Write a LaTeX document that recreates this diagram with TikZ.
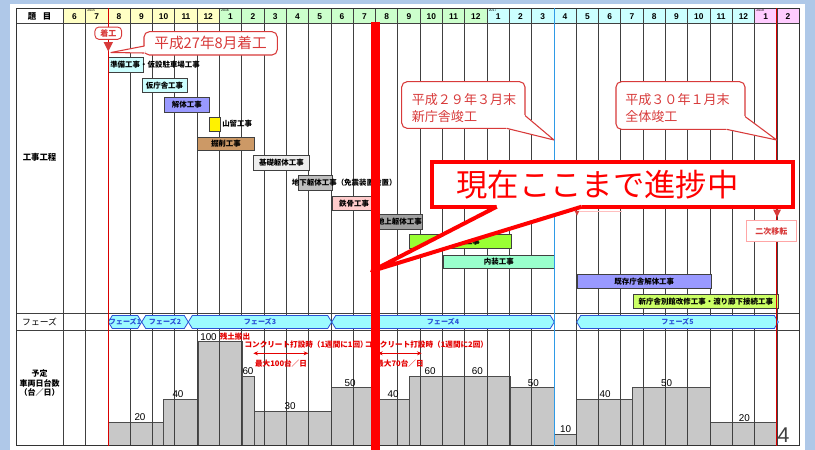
\documentclass[tikz,border=0pt]{standalone}
\usepackage{fontspec}
\setmainfont{Noto Sans CJK JP}
\newfontfamily\ar{Liberation Sans}
\usetikzlibrary{arrows.meta}
\definecolor{bgblue}{HTML}{AFC8E8}
\definecolor{hy}{HTML}{FFFFC4}
\definecolor{hg}{HTML}{CCFFCC}
\definecolor{hc}{HTML}{CCFFFF}
\definecolor{hp}{HTML}{FFCCFF}
\definecolor{cored}{HTML}{D83A3A}
\definecolor{phcyan}{HTML}{9CFBFF}
\definecolor{phblue}{HTML}{2A52D6}
\definecolor{vgray}{HTML}{C8C8C8}
\definecolor{lblue}{HTML}{2E9AE6}
\definecolor{kai}{HTML}{9999FF}
\definecolor{kus}{HTML}{CC9966}
\definecolor{kis}{HTML}{EDEDED}
\definecolor{chk}{HTML}{BFBFBF}
\definecolor{tek}{HTML}{FFCCCC}
\definecolor{cjo}{HTML}{A0A0A0}
\definecolor{gai}{HTML}{99FF33}
\definecolor{nai}{HTML}{99FFCC}
\definecolor{bek}{HTML}{CCFF66}
\tikzset{
  gridline/.style={draw=black!75, line width=0.5pt},
  gb/.style={draw=black!75, line width=0.45pt, inner sep=0, anchor=north west, font=\fontsize{5.6}{6}\selectfont\bfseries},
  gtxt/.style={inner sep=0, font=\fontsize{5.6}{6}\selectfont\bfseries},
  vbar/.style={fill=vgray, draw=black!70, line width=0.5pt},
  vnum/.style={font=\ar\fontsize{7.4}{8}\selectfont, inner sep=0},
  redtxt/.style={text=red!90!black, font=\fontsize{5.7}{6}\selectfont\bfseries, inner sep=0},
  phase/.style={fill=phcyan, draw=phblue, line width=0.6pt},
  phtxt/.style={text=phblue, font=\fontsize{5.3}{6}\selectfont\bfseries, inner sep=0},
  co/.style={draw=cored, fill=white, line width=0.8pt, rounded corners=4pt},
  cotxt/.style={text=cored, font=\fontsize{9.8}{12.5}\selectfont, align=left, inner sep=0, anchor=west},
  hdr/.style={font=\ar\bfseries\fontsize{6.3}{7}\selectfont, inner sep=0},
  yr/.style={font=\ar\fontsize{2.6}{3}\selectfont, inner sep=0, anchor=north west},
  lbl/.style={font=\fontsize{6.3}{6}\selectfont\bfseries, inner sep=0, align=center},
}
\newcommand\gbox[7]{\node[gb, fill=#6, minimum width={(#4-#2)*0.75pt}, minimum height={(#5-#3)*0.75pt}] (#1) at (#2,#3) {#7};}
\begin{document}
\begin{tikzpicture}[x=0.75pt,y=-0.75pt]
\useasboundingbox (0,0) rectangle (815,450);
\fill[bgblue] (0,0) rectangle (815,450);
\fill[white] (10,4) rectangle (805,450);
% header
\fill[white] (16,8.3) rectangle (63.3,23.3);
\foreach \m/\c [count=\k from 0] in {6/hy,7/hy,8/hy,9/hy,10/hy,11/hy,12/hy,1/hg,2/hg,3/hg,4/hg,5/hg,6/hg,7/hg,8/hg,9/hg,10/hg,11/hg,12/hg,1/hc,2/hc,3/hc,4/hc,5/hc,6/hc,7/hc,8/hc,9/hc,10/hc,11/hc,12/hc,1/hp,2/hp}{
  \fill[\c] ({63.3+22.3*\k},8.3) rectangle ({63.3+22.3*(\k+1)},23.3);
  \node[hdr] (mon\k) at ({63.3+22.3*(\k+0.5)},17) {\m};
}
\node[yr] (y2015) at ({63.3+22.3*1+1.5},9) {2015};
\node[yr] (y2016) at ({63.3+22.3*7+1.5},9) {2016};
\node[yr] (y2017) at ({63.3+22.3*19+1.5},9) {2017};
\node[yr] (y2018) at ({63.3+22.3*31+1.5},9) {2018};
\node[lbl] (hdai) at (39.6,16) {題\hspace{0.8em}目};
% vehicle bars
\foreach \a/\b/\t in {108.3/163.3/422.7,163.3/198.3/399,198.3/242.7/341.7,242.7/254/376.7,254/331.7/411,331.7/376/387.7,376/409.3/399,409.3/510/376,510/554.3/387.7,554.3/576.7/434.3,576.7/632.3/399,632.3/710.7/387.7,710.7/777.7/422.3}{
  \draw[vbar] (\a,\t) rectangle (\b,445.7);
}
% grid
\foreach \k in {0,...,33}{
  \draw[gridline] ({63.3+22.3*\k},8.3) -- ({63.3+22.3*\k},445.7);
}
\draw[gridline] (16,23.3) -- (799.2,23.3);
\draw[gridline] (16,313) -- (799.2,313);
\draw[gridline] (16,330) -- (799.2,330);
\draw[draw=black!80, line width=0.7pt] (16,8.3) rectangle (799.2,445.7);
% left labels
\node[lbl] (lkoji) at (39.6,157) {工事工程};
\node[lbl, font=\fontsize{6.6}{7}\selectfont] (lphase) at (39.6,321.5) {フェーズ};
\node[lbl, font=\fontsize{6}{5.6}\selectfont\bfseries] (lyotei) at (39.6,383) {予定\\車両日台数\\（台／日）};
% phases
\foreach \a/\b/\n in {108.3/141.7/1,141.7/188.3/2,188.3/331.7/3,331.7/554.3/4,576.7/778.3/5}{
  \draw[phase] (\a,322) -- (\a+4,315.5) -- (\b-4,315.5) -- (\b,322) -- (\b-4,328.5) -- (\a+4,328.5) -- cycle;
  \node[phtxt] (ph\n) at ({(\a+\b)/2},322) {フェーズ\n};
}
% gantt boxes
\gbox{g1}{108}{57.3}{142.7}{71.7}{hc}{}
\node[gtxt, anchor=west] (t1) at (110,64.5) {準備工事・仮設駐車場工事};
\gbox{g2}{141.7}{78.3}{186.7}{91.7}{hc}{仮庁舎工事}
\gbox{g3}{164}{96.7}{209}{111.7}{kai}{解体工事}
\gbox{g4}{209}{116.7}{220}{130.7}{yellow}{}
\node[gtxt, anchor=west] (t4) at (222,124) {山留工事};
\gbox{g5}{197.3}{136.7}{254}{150}{kus}{掘削工事}
\gbox{g6}{253.3}{155}{309}{170}{kis}{基礎躯体工事}
\gbox{g7}{298.3}{175}{331.7}{190}{chk}{}
\node[gtxt, anchor=west] (t7) at (291.7,182.5) {地下躯体工事（免震装置設置）};
\gbox{g8}{331.7}{196}{376}{210}{tek}{鉄骨工事}
\gbox{g9}{376.7}{214}{420.7}{229.3}{cjo}{地上躯体工事}
\gbox{g10}{409.3}{234.3}{510.7}{248.3}{gai}{}
\node[gtxt] (t10) at (465,241.3) {外装工事};
\gbox{g11}{442.7}{255}{554.3}{268.3}{nai}{内装工事}
\gbox{g12}{577.3}{274.3}{710.7}{288.3}{kai}{既存庁舎解体工事}
\gbox{g13}{632.7}{294.3}{778.3}{308.3}{bek}{新庁舎別館改修工事・渡り廊下接続工事}
% coloured milestone lines
\draw[red!85!black, line width=0.8pt] (108.3,8.3) -- (108.3,445.7);
\draw[lblue, line width=0.9pt] (554.3,8.3) -- (554.3,445.7);
\draw[red!85!black, line width=0.8pt] (776.9,8.3) -- (776.9,445.7);
% vehicle numbers
\node[vnum] (n1) at (140,417.5) {20};
\node[vnum] (n2) at (178,394.5) {40};
\node[vnum] (n3) at (208.5,336.7) {100};
\node[vnum] (n4) at (248,371.5) {60};
\node[vnum] (n5) at (290,406) {30};
\node[vnum] (n6) at (350,382.7) {50};
\node[vnum] (n7) at (393,394.5) {40};
\node[vnum] (n8) at (430,371) {60};
\node[vnum] (n9) at (477.3,371) {60};
\node[vnum] (n10) at (533.3,383) {50};
\node[vnum] (n11) at (565.7,429.5) {10};
\node[vnum] (n12) at (605,394.5) {40};
\node[vnum] (n13) at (666.7,383) {50};
\node[vnum] (n14) at (744.3,417.7) {20};
\node[font=\ar\fontsize{16}{16}\selectfont, text=black!75, inner sep=0] (pg) at (783.5,435) {4};
% red annotations
\node[redtxt, anchor=west] (zando) at (219.5,337) {残土搬出};
\node[redtxt, anchor=west] (conc1) at (244.3,345) {コンクリート打設時（1週間に1回）};
\node[redtxt, anchor=east] (conc2) at (488.3,345) {コンクリート打設時（1週間に2回）};
\coordinate (a1l) at (253.3,353.3);
\coordinate (a1r) at (308.3,353.3);
\coordinate (a2l) at (378,353.3);
\coordinate (a2r) at (421.7,353.3);
\draw[red!90!black, line width=0.6pt, {Stealth[length=3.5pt,width=3pt]}-{Stealth[length=3.5pt,width=3pt]}] (a1l) -- (a1r);
\draw[red!90!black, line width=0.6pt, {Stealth[length=3.5pt,width=3pt]}-{Stealth[length=3.5pt,width=3pt]}] (a2l) -- (a2r);
\node[redtxt] (max1) at (281,363.3) {最大100台／日};
\node[redtxt] (max2) at (400,363.3) {最大70台／日};
% secondary marks on the right
\fill[cored] (574.5,210.8) -- (579.5,210.8) -- (577,215.5) -- cycle;
\draw[red!25, line width=0.5pt] (580,211.3) -- (622,211.3);
\fill[cored] (773,209.5) -- (781,209.5) -- (777,217.5) -- cycle;
\node[draw=red!35, fill=white, line width=0.5pt, text=cored, font=\fontsize{6}{6}\selectfont\bfseries, minimum width={50.7*0.75pt}, minimum height={21*0.75pt}, inner sep=0] (niji) at (771.3,231.2) {二次移転};
% big red progress bar
\fill[red] (371,21.7) rectangle (380,450);
% start label
\node[draw=cored, fill=white, rounded corners=3pt, line width=0.7pt, text=cored, font=\fontsize{6}{6}\selectfont\bfseries, minimum width={26.7*0.75pt}, minimum height={12.3*0.75pt}, inner sep=0] (chakko) at (108.3,33.2) {着工};
\fill[cored] (103.5,42) -- (113,42) -- (108.3,51.5) -- cycle;
% callout 1
\draw[co] (144,31.7) rectangle (277.3,55);
\coordinate (c1tip) at (111,52.5);
\fill[white] (145.5,46) -- (c1tip) -- (145.5,53) -- cycle;
\draw[cored, line width=0.8pt, line join=round] (144.4,46) -- (c1tip) -- (144.4,53);
\node[text=cored, font=\fontsize{11}{12}\selectfont, inner sep=0] (c1txt) at (210.6,43.3) {平成27年8月着工};
% callout 2
\draw[co] (401.7,81.7) rectangle (525,128.3);
\coordinate (c2tip) at (554,140);
\fill[white] (525.5,115) -- (c2tip) -- (506,128.8) -- (506,126) -- (523,126) -- (523,115) -- cycle;
\draw[cored, line width=0.8pt, line join=round] (525,115.5) -- (c2tip) -- (506.5,128.3);
\node[cotxt] (c2txt) at (411.5,108.3) {平成２９年３月末\\新庁舎竣工};
% callout 3
\draw[co] (616,81.7) rectangle (745,129.3);
\coordinate (c3tip) at (776.7,140);
\fill[white] (745.5,116) -- (c3tip) -- (726,129.8) -- (726,127) -- (743,127) -- (743,116) -- cycle;
\draw[cored, line width=0.8pt, line join=round] (745,116.5) -- (c3tip) -- (726.5,129.3);
\node[cotxt] (c3txt) at (625,108.3) {平成３０年１月末\\全体竣工};
% big callout
\node[draw=red, fill=white, line width=3pt, minimum width={361.6*0.75pt}, minimum height={45*0.75pt}, inner sep=0] (now) at (612.5,184.2) {};
\coordinate (nowtip) at (372,271);
\fill[white] (496.7,204.3) -- (496.7,206.7) -- (nowtip) -- (581.7,206.7) -- (581.7,204.3) -- cycle;
\draw[red, line width=3pt, line join=round] (496.7,206.7) -- (nowtip) -- (581.7,206.7);
\node[text=red, font=\fontsize{23.5}{24}\selectfont, inner sep=0] (nowtxt) at (597.5,185) {現在ここまで進捗中};
\end{tikzpicture}
\end{document}
